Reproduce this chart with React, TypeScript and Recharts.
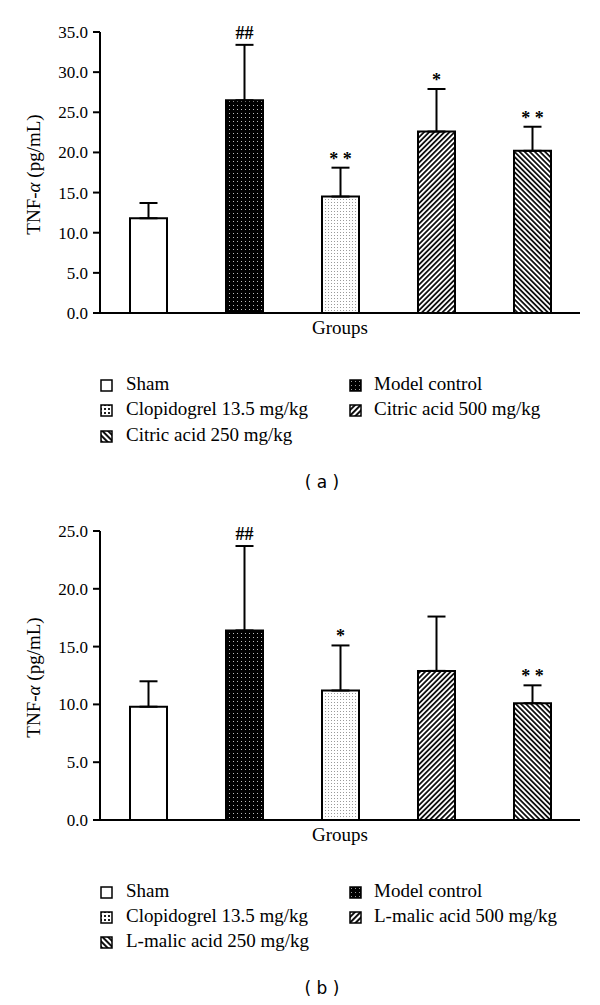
import React from 'react';
import { BarChart, Bar, XAxis, YAxis, ErrorBar, Cell, LabelList } from 'recharts';

// ---- Data ----
const groupsA = ['Sham', 'Model control', 'Clopidogrel 13.5 mg/kg', 'Citric acid 500 mg/kg', 'Citric acid 250 mg/kg'];
const meansA = [11.8, 26.5, 14.5, 22.6, 20.2];
const errsA = [1.9, 6.9, 3.6, 5.3, 3.0];
const sigA = ['', '##', '**', '*', '**'];
const ticksA = [0, 5, 10, 15, 20, 25, 30, 35];

const groupsB = ['Sham', 'Model control', 'Clopidogrel 13.5 mg/kg', 'L-malic acid 500 mg/kg', 'L-malic acid 250 mg/kg'];
const meansB = [9.8, 16.4, 11.2, 12.9, 10.1];
const errsB = [2.2, 7.3, 3.9, 4.7, 1.55];
const sigB = ['', '##', '*', '', '**'];
const ticksB = [0, 5, 10, 15, 20, 25];

const legendOrder = [0, 1, 2, 3, 4];
const fills = ['#ffffff', 'url(#patModel)', 'url(#patClop)', 'url(#patFwd)', 'url(#patBack)'];
const iconFills = ['#ffffff', 'url(#icoModel)', 'url(#icoClop)', 'url(#icoFwd)', 'url(#icoBack)'];

const SERIF = '"Liberation Serif", "Times New Roman", serif';

const buildRows = (names: string[], means: number[], errs: number[], sig: string[]) =>
  names.map((n, i) => ({ name: n, value: means[i], err: [0, errs[i]], sig: sig[i] }));

const Defs = () => (
  <svg width={0} height={0} style={{ position: 'absolute', left: 0, top: 0 }}>
    <defs>
      <pattern id="patModel" width={4} height={4} patternUnits="userSpaceOnUse">
        <rect width={4} height={4} fill="#000" />
        <rect x={1} y={1} width={1} height={1} fill="#bbb" />
      </pattern>
      <pattern id="patClop" width={3} height={3} patternUnits="userSpaceOnUse">
        <rect width={3} height={3} fill="#fff" />
        <rect x={1} y={1} width={1} height={1} fill="#9a9a9a" />
      </pattern>
      <pattern id="patFwd" width={3.6} height={3.6} patternUnits="userSpaceOnUse" patternTransform="rotate(45)">
        <rect width={3.6} height={3.6} fill="#fff" />
        <rect width={1.8} height={3.6} fill="#111" />
      </pattern>
      <pattern id="patBack" width={3.6} height={3.6} patternUnits="userSpaceOnUse" patternTransform="rotate(-45)">
        <rect width={3.6} height={3.6} fill="#fff" />
        <rect width={1.8} height={3.6} fill="#111" />
      </pattern>
      <pattern id="icoModel" width={4} height={4} patternUnits="userSpaceOnUse">
        <rect width={4} height={4} fill="#000" />
        <rect x={2} y={2} width={1} height={1} fill="#999" />
      </pattern>
      <pattern id="icoClop" width={4} height={4} patternUnits="userSpaceOnUse">
        <rect width={4} height={4} fill="#fff" />
        <rect x={0} y={0} width={2} height={2} fill="#222" />
      </pattern>
      <pattern id="icoFwd" width={4} height={4} patternUnits="userSpaceOnUse" patternTransform="rotate(45)">
        <rect width={4} height={4} fill="#fff" />
        <rect width={2} height={4} fill="#111" />
      </pattern>
      <pattern id="icoBack" width={4} height={4} patternUnits="userSpaceOnUse" patternTransform="rotate(-45)">
        <rect width={4} height={4} fill="#fff" />
        <rect width={2} height={4} fill="#111" />
      </pattern>
    </defs>
  </svg>
);

const YLabel = (props: any) => {
  const vb = props.viewBox || {};
  const cx = (vb.x || 0) + 33;
  const cy = (vb.y || 0) + (vb.height || 0) / 2 + 2;
  return (
    <text x={cx} y={cy} transform={`rotate(-90 ${cx} ${cy})`} textAnchor="middle" dominantBaseline="central"
      fontFamily={SERIF} fontSize={19} fill="#000">
      TNF-<tspan fontStyle="italic">α</tspan> (pg/mL)
    </text>
  );
};

const XLabel = (props: any) => {
  const vb = props.viewBox || {};
  const cx = (vb.x || 0) + (vb.width || 0) / 2;
  const y = (vb.y || 0) + 21;
  return (
    <text x={cx} y={y} textAnchor="middle" fontFamily={SERIF} fontSize={19} fill="#000">Groups</text>
  );
};

const makeSig = (means: number[], errs: number[]) => (props: any) => {
  const { x, y, width, height, value, index } = props;
  if (!value) return null;
  const ppu = height / means[index];
  const top = y - errs[index] * ppu;
  const txt = value === '**' ? '* *' : value;
  const gap = value.startsWith('#') ? 6 : 3;
  return (
    <text x={x + width / 2} y={top - gap} textAnchor="middle" fontFamily={SERIF} fontSize={18}
      fontWeight={600} fill="#000">{txt}</text>
  );
};

type PanelProps = {
  top: number; height: number; marginTop: number; names: string[]; means: number[]; errs: number[];
  sig: string[]; ticks: number[]; max: number;
};

const Panel = ({ top, height, marginTop, names, means, errs, sig, ticks, max }: PanelProps) => {
  const data = buildRows(names, means, errs, sig);
  return (
    <div style={{ position: 'absolute', left: 0, top, width: 600, height }}>
      <BarChart width={600} height={height} data={data} margin={{ top: marginTop, right: 20, left: 0, bottom: 0 }}>
        <XAxis dataKey="name" tick={false} tickLine={false} height={32}
          axisLine={{ stroke: '#000', strokeWidth: 2 }} label={<XLabel />} />
        <YAxis domain={[0, max]} ticks={ticks} width={100} interval={0}
          tickFormatter={(v: number) => v.toFixed(1)}
          tick={{ fill: '#000', fontSize: 17, fontFamily: SERIF }}
          tickSize={7} tickMargin={5}
          tickLine={{ stroke: '#000', strokeWidth: 2 }}
          axisLine={{ stroke: '#000', strokeWidth: 2 }} label={<YLabel />} />
        <Bar dataKey="value" barSize={37} stroke="#000" strokeWidth={2} isAnimationActive={false}>
          {data.map((d, i) => <Cell key={i} fill={fills[i]} />)}
          <ErrorBar dataKey="err" direction="y" width={9} stroke="#000" strokeWidth={2} />
          <LabelList dataKey="sig" content={makeSig(means, errs)} />
        </Bar>
      </BarChart>
    </div>
  );
};

type LegendProps = { names: string[]; rowY: number[]; caption: string; captionY: number };

const LegendBlock = ({ names, rowY, caption, captionY }: LegendProps) => {
  const colIcon = [100, 349];
  const colText = [126, 374];
  return (
    <>
      {legendOrder.map((gi, k) => {
        const col = k % 2;
        const row = Math.floor(k / 2);
        const cy = rowY[row];
        return (
          <div key={gi} style={{ position: 'absolute', left: 0, top: 0 }}>
            <svg width={14} height={14} style={{ position: 'absolute', left: colIcon[col], top: cy - 6 }}>
              <rect x={1} y={1} width={11} height={11} fill={iconFills[gi]} stroke="#000" strokeWidth={1.5} />
            </svg>
            <div style={{ position: 'absolute', left: colText[col], top: cy - 13, fontFamily: SERIF, fontSize: 19,
              lineHeight: '24px', whiteSpace: 'nowrap', color: '#000' }}>{names[gi]}</div>
          </div>
        );
      })}
      <div style={{ position: 'absolute', left: 272, width: 100, top: captionY - 11, textAlign: 'center',
        fontFamily: '"DejaVu Sans", sans-serif', fontSize: 17, lineHeight: '22px', color: '#000', whiteSpace: 'pre' }}>{caption}</div>
    </>
  );
};

export default function App() {
  return (
    <div style={{ position: 'absolute', left: 0, top: 0, width: 600, height: 1005, background: '#fff', overflow: 'hidden' }}>
      <Defs />
      <Panel top={0} height={345} marginTop={32} names={groupsA} means={meansA} errs={errsA} sig={sigA} ticks={ticksA} max={35} />
      <LegendBlock names={groupsA} rowY={[385, 410, 436]} caption="( a )" captionY={482} />
      <Panel top={500} height={352} marginTop={31} names={groupsB} means={meansB} errs={errsB} sig={sigB} ticks={ticksB} max={25} />
      <LegendBlock names={groupsB} rowY={[892, 917, 942]} caption="( b )" captionY={988} />
    </div>
  );
}
